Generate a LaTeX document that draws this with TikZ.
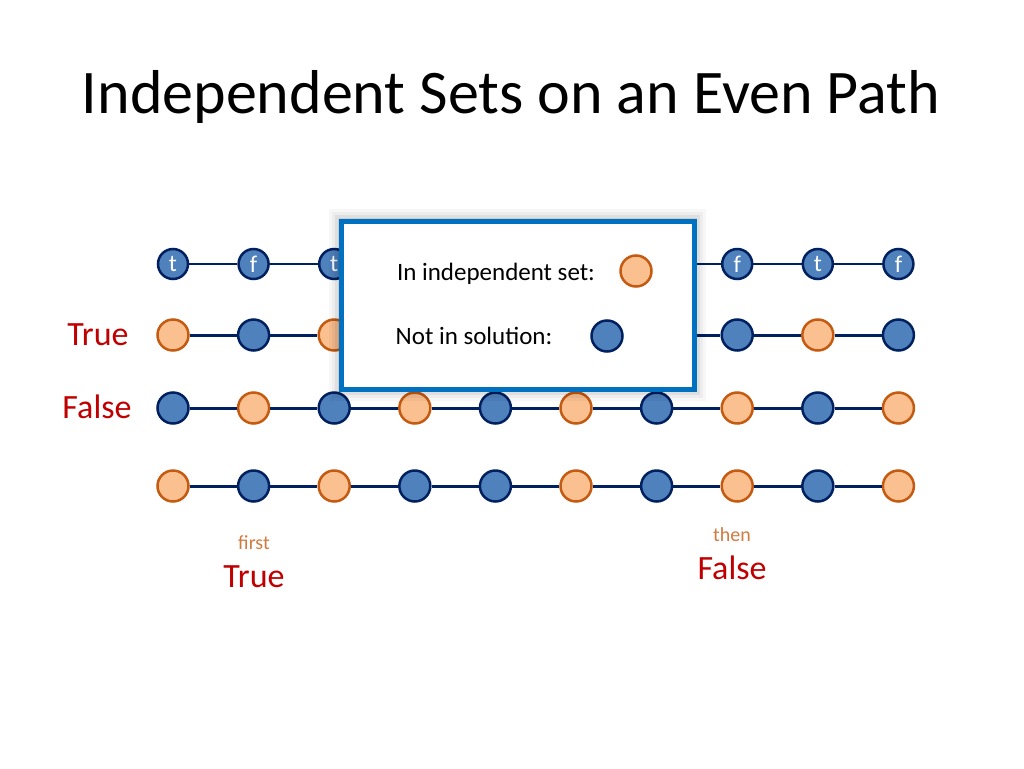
\documentclass[tikz,border=0pt]{standalone}
\usepackage{fontspec}
\setmainfont{Carlito}
\definecolor{navy}{RGB}{0,32,96}
\definecolor{bluefill}{RGB}{79,129,189}
\definecolor{orfill}{RGB}{250,192,144}
\definecolor{ordraw}{RGB}{197,90,17}
\definecolor{darkred}{RGB}{192,0,0}
\definecolor{boxblue}{RGB}{0,112,192}
\tikzset{
	inset/.style={circle, fill=orfill, draw=ordraw, line width=2.5pt, minimum size=31pt, inner sep=0pt},
	notset/.style={circle, fill=bluefill, draw=navy, line width=2.5pt, minimum size=31pt, inner sep=0pt},
	tfnode/.style={circle, fill=bluefill, draw=navy, line width=2.5pt, minimum size=30pt, inner sep=0pt, text=white, font=\fontsize{24}{24}\selectfont},
	redlabel/.style={text=darkred, font=\fontsize{34}{34}\selectfont},
	smalllabel/.style={text=ordraw!80, font=\fontsize{20}{20}\selectfont},
	keytext/.style={font=\fontsize{25}{25}\selectfont},
	pathedge/.style={navy, line width=3pt},
}
\begin{document}
\begin{tikzpicture}[x=1pt, y=-1pt]
	\useasboundingbox (0,0) rectangle (1024,768);
	\node (title) at (511,97) {\fontsize{62}{70}\selectfont Independent Sets on an Even Path};
	% row of truth values
	\foreach \i/\l in {1/t,2/f,3/t,4/f,5/t,6/f,7/t,8/f,9/t,10/f}
		\node[tfnode] (a\i) at ({173+80.6*(\i-1)},264) {\l};
	% rows of sets
	\foreach \i/\s in {1/inset,2/notset,3/inset,4/notset,5/inset,6/notset,7/inset,8/notset,9/inset,10/notset}
		\node[\s] (b\i) at ({173+80.6*(\i-1)},335) {};
	\foreach \i/\s in {1/notset,2/inset,3/notset,4/inset,5/notset,6/inset,7/notset,8/inset,9/notset,10/inset}
		\node[\s] (c\i) at ({173+80.6*(\i-1)},408) {};
	\foreach \i/\s in {1/inset,2/notset,3/inset,4/notset,5/notset,6/inset,7/notset,8/inset,9/notset,10/inset}
		\node[\s] (d\i) at ({173+80.6*(\i-1)},486) {};
	\foreach \i/\j in {1/2,2/3,3/4,4/5,5/6,6/7,7/8,8/9,9/10} {
		\draw[navy, line width=2pt] (a\i) -- (a\j);
		\draw[pathedge] (b\i) -- (b\j);
		\draw[pathedge] (c\i) -- (c\j);
		\draw[pathedge] (d\i) -- (d\j);
	}
	\node[redlabel] (truelbl) at (98,335) {True};
	\node[redlabel] (falselbl) at (97,407) {False};
	\node[smalllabel] (first) at (254,543) {first};
	\node[redlabel] (firsttrue) at (254,577) {True};
	\node[smalllabel] (then) at (732,535) {then};
	\node[redlabel] (thenfalse) at (732,568) {False};
	% legend box
	\foreach \d/\o in {12/0.03,9/0.04,6/0.06,3/0.08}
		\fill[black, opacity=\o] (341-\d,221-\d) rectangle (694+\d,389+\d);
	\draw[boxblue, fill=white, line width=5pt] (341,221) rectangle (694,389);
	\node[keytext] (inlbl) at (496,274) {In independent set:};
	\node[inset] (inkey) at (636,271) {};
	\node[keytext] (notlbl) at (474,336) {Not in solution:};
	\node[notset] (notkey) at (607,336) {};
\end{tikzpicture}
\end{document}
